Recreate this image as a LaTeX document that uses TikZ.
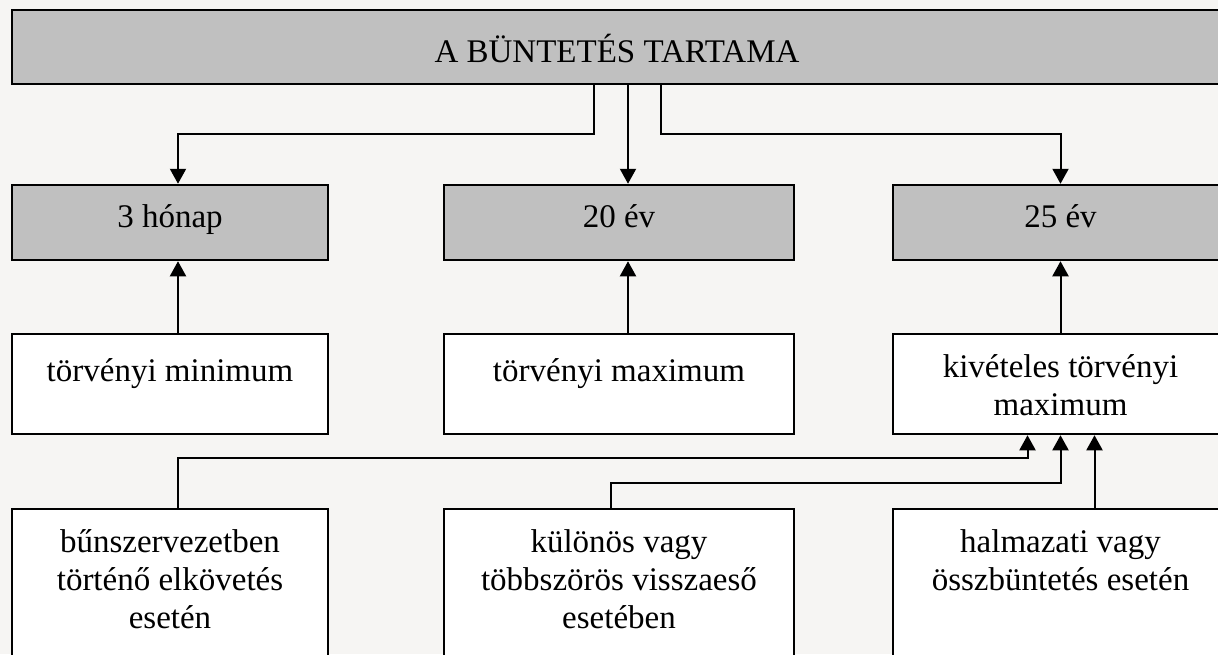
\documentclass[tikz,border=0pt]{standalone}
\usepackage{fontspec}
\setmainfont{Liberation Serif}
\usetikzlibrary{arrows.meta}
\definecolor{paper}{HTML}{F6F5F3}
\definecolor{boxgray}{HTML}{C0C0C0}
\begin{document}
\begin{tikzpicture}[x=1pt,y=-1pt,
  every node/.style={font=\fontsize{33}{38}\selectfont},
  graybox/.style={draw=black,line width=2.5pt,fill=boxgray,minimum height=75pt,inner sep=0pt,
    text height=20pt,text depth=11pt},
  whitebox/.style={draw=black,line width=2.5pt,fill=white,inner sep=0pt},
  boxtext/.style={anchor=north,inner sep=0pt,align=center,execute at begin node=\strut},
  conn/.style={line width=2pt,-{Triangle[width=16pt,length=15pt]}}]
\useasboundingbox (0,0) rectangle (1218,654);
\fill[paper] (0,0) rectangle (1218,654);
\clip (0,0) rectangle (1218,654);
% header
\node[graybox,minimum width=1210pt,minimum height=74pt,text height=30pt,text depth=0pt] (top) at (617,47) {A BÜNTETÉS TARTAMA};
% durations
\node[graybox,minimum width=316pt] (g1) at (170,222.5) {3 hónap};
\node[graybox,minimum width=350pt] (g2) at (619,222.5) {20 év};
\node[graybox,minimum width=335pt] (g3) at (1060.5,222.5) {25 év};
% limits
\node[whitebox,minimum width=316pt,minimum height=100pt] (w1) at (170,384) {};
\node[whitebox,minimum width=350pt,minimum height=100pt] (w2) at (619,384) {};
\node[whitebox,minimum width=335pt,minimum height=100pt] (w3) at (1060.5,384) {};
\node[boxtext] (t1) at ([yshift=-22pt]w1.north) {törvényi minimum};
\node[boxtext] (t2) at ([yshift=-22pt]w2.north) {törvényi maximum};
\node[boxtext] (t3) at ([yshift=-22pt]w3.north) {kivételes törvényi\\maximum};
% cases
\node[whitebox,minimum width=316pt,minimum height=171pt] (b1) at (170,594.5) {};
\node[whitebox,minimum width=350pt,minimum height=171pt] (b2) at (619,594.5) {};
\node[whitebox,minimum width=335pt,minimum height=171pt] (b3) at (1060.5,594.5) {};
\node[boxtext] (s1) at ([yshift=-22pt]b1.north) {bűnszervezetben\\történő elkövetés\\esetén};
\node[boxtext] (s2) at ([yshift=-22pt]b2.north) {különös vagy\\többszörös visszaeső\\esetében};
\node[boxtext] (s3) at ([yshift=-22pt]b3.north) {halmazati vagy\\összbüntetés esetén};
% arrows
\draw[conn] ([xshift=-25pt]g2.north |- top.south) -- ++(0,49) -| ([xshift=8pt]g1.north);
\draw[conn] ([xshift=9pt]g2.north |- top.south) -- ([xshift=9pt]g2.north);
\draw[conn] ([xshift=42pt]g2.north |- top.south) -- ++(0,49) -| (g3.north);
\draw[conn] ([xshift=8pt]w1.north) -- ([xshift=8pt]g1.south);
\draw[conn] ([xshift=9pt]w2.north) -- ([xshift=9pt]g2.south);
\draw[conn] (w3.north) -- (g3.south);
\draw[conn] ([xshift=8pt]b1.north) -- ++(0,-50) -| ([xshift=-33pt]w3.south);
\draw[conn] ([xshift=-8pt]b2.north) -- ++(0,-25) -| (w3.south);
\draw[conn] ([xshift=34pt]w3.south |- b3.north) -- ([xshift=34pt]w3.south);
\end{tikzpicture}
\end{document}
